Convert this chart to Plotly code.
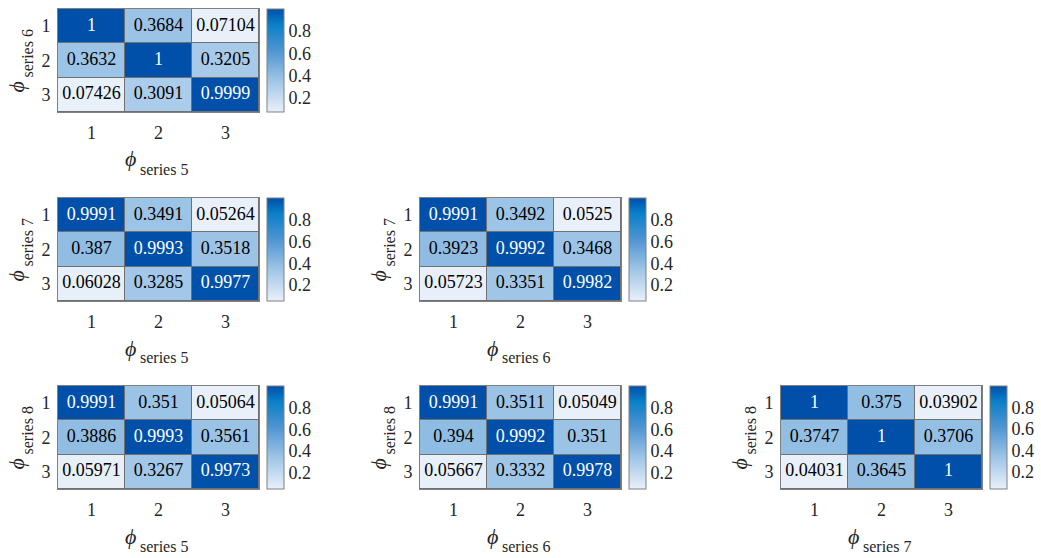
import plotly.graph_objects as go

W, H = 1041, 558

# ---- data ----
ticks = [1, 2, 3]
cbar_ticks = [0.2, 0.4, 0.6, 0.8]

m_6_5 = [[1, 0.3684, 0.07104], [0.3632, 1, 0.3205], [0.07426, 0.3091, 0.9999]]
m_7_5 = [[0.9991, 0.3491, 0.05264], [0.387, 0.9993, 0.3518], [0.06028, 0.3285, 0.9977]]
m_7_6 = [[0.9991, 0.3492, 0.0525], [0.3923, 0.9992, 0.3468], [0.05723, 0.3351, 0.9982]]
m_8_5 = [[0.9991, 0.351, 0.05064], [0.3886, 0.9993, 0.3561], [0.05971, 0.3267, 0.9973]]
m_8_6 = [[0.9991, 0.3511, 0.05049], [0.394, 0.9992, 0.351], [0.05667, 0.3332, 0.9978]]
m_8_7 = [[1, 0.375, 0.03902], [0.3747, 1, 0.3706], [0.04031, 0.3645, 1]]

row_series = [6, 7, 7, 8, 8, 8]
col_series = [5, 5, 6, 5, 6, 7]
matrices = [m_6_5, m_7_5, m_7_6, m_8_5, m_8_6, m_8_7]
grid_row = [0, 1, 1, 2, 2, 2]
grid_col = [0, 0, 1, 0, 1, 2]

# ---- layout geometry (px) ----
col_x = [(58, 259), (420, 621), (781, 982)]
row_y = [(9, 112), (198, 301), (386, 489)]

FONT = "Liberation Serif, Times New Roman, serif"
TXT = "#262626"
colorscale = [
    [0.0, "#e9f0fa"],
    [0.3, "#a0c6e7"],
    [0.6, "#4e95d2"],
    [0.85, "#0a7fc8"],
    [1.0, "#0050aa"],
]


def ann(px, py, text, size, angle=0):
    return dict(
        xref="paper", yref="paper", x=px / W, y=1 - py / H,
        xanchor="center", yanchor="middle", showarrow=False,
        textangle=angle, text=text,
        font=dict(family=FONT, size=size, color=TXT),
    )


fig = go.Figure()
annotations = []
layout = {}
for k, M in enumerate(matrices):
    xa = "x" if k == 0 else f"x{k+1}"
    ya = "y" if k == 0 else f"y{k+1}"
    x0, x1 = col_x[grid_col[k]]
    y0, y1 = row_y[grid_row[k]]
    cx, cy = (x0 + x1) / 2, (y0 + y1) / 2
    flat = [v for r in M for v in r]
    zmin, zmax = min(flat), max(flat)
    fig.add_trace(go.Heatmap(
        z=M, x=ticks, y=ticks, xaxis=xa, yaxis=ya,
        colorscale=colorscale, zmin=zmin, zmax=zmax,
        xgap=1, ygap=1, hoverinfo="skip",
        colorbar=dict(
            x=(x1 + 8) / W, xanchor="left", xpad=0, ypad=0,
            y=1 - cy / H, yanchor="middle",
            len=y1 - y0, lenmode="pixels", thickness=17,
            outlinecolor="#808080", outlinewidth=1,
            tickvals=cbar_ticks, ticks="", ticklen=2,
            tickfont=dict(family=FONT, size=18, color=TXT),
        ),
    ))
    xs, ys, txt, cols = [], [], [], []
    for i, r in enumerate(M):
        for j, v in enumerate(r):
            xs.append(ticks[j]); ys.append(ticks[i])
            txt.append(f"{v:.4g}")
            cols.append("white" if (v - zmin) / (zmax - zmin) > 0.7 else "black")
    fig.add_trace(go.Scatter(
        x=xs, y=ys, text=txt, mode="text", xaxis=xa, yaxis=ya,
        textfont=dict(family=FONT, size=18, color=cols),
        hoverinfo="skip", showlegend=False,
    ))
    axname = "xaxis" if k == 0 else f"xaxis{k+1}"
    ayname = "yaxis" if k == 0 else f"yaxis{k+1}"
    layout[axname] = dict(
        domain=[x0 / W, x1 / W], anchor=ya, range=[0.5, 3.5],
        tickvals=ticks, showgrid=False, zeroline=False,
        showline=True, mirror=True, linecolor="#808080", linewidth=1,
        ticks="", ticklabelstandoff=4,
        tickfont=dict(family=FONT, size=18, color=TXT),
    )
    layout[ayname] = dict(
        domain=[1 - y1 / H, 1 - y0 / H], anchor=xa, range=[3.5, 0.5],
        tickvals=ticks, showgrid=False, zeroline=False,
        showline=True, mirror=True, linecolor="#808080", linewidth=1,
        ticks="", ticklabelstandoff=3,
        tickfont=dict(family=FONT, size=18, color=TXT),
    )
    # x-axis title: phi with subscript
    annotations.append(ann(cx - 28, y1 + 47, "<i>ϕ</i>", 22))
    annotations.append(ann(cx + 5, y1 + 57, f"series {col_series[k]}", 16))
    # y-axis title (rotated)
    annotations.append(ann(x0 - 42, cy + 27, "<i>ϕ</i>", 22, -90))
    annotations.append(ann(x0 - 31, cy - 7, f"series {row_series[k]}", 16, -90))

fig.update_layout(
    width=W, height=H, margin=dict(l=0, r=0, t=0, b=0),
    paper_bgcolor="white", plot_bgcolor="#707070",
    showlegend=False, annotations=annotations, **layout,
)
fig.write_html("out.html", config={"displayModeBar": False},
               post_script="document.body.style.margin='0px';")
